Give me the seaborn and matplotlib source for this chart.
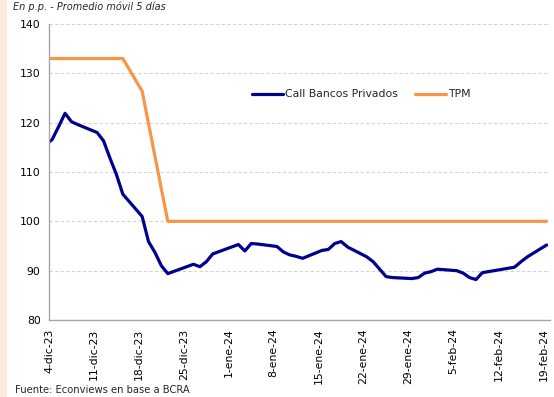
import matplotlib
matplotlib.use("Agg")
import matplotlib.pyplot as plt
from matplotlib.patches import Rectangle
import pandas as pd
import seaborn as sns

# Business days in the sample
dates = [
    "2023-12-01",
    "2023-12-04", "2023-12-05", "2023-12-06", "2023-12-07", "2023-12-08",
    "2023-12-11", "2023-12-12", "2023-12-13", "2023-12-14", "2023-12-15",
    "2023-12-18", "2023-12-19", "2023-12-20", "2023-12-21", "2023-12-22",
    "2023-12-26", "2023-12-27", "2023-12-28", "2023-12-29",
    "2024-01-02", "2024-01-03", "2024-01-04", "2024-01-05",
    "2024-01-08", "2024-01-09", "2024-01-10", "2024-01-11", "2024-01-12",
    "2024-01-15", "2024-01-16", "2024-01-17", "2024-01-18", "2024-01-19",
    "2024-01-22", "2024-01-23", "2024-01-24", "2024-01-25", "2024-01-26",
    "2024-01-29", "2024-01-30", "2024-01-31", "2024-02-01", "2024-02-02",
    "2024-02-05", "2024-02-06", "2024-02-07", "2024-02-08", "2024-02-09",
    "2024-02-14", "2024-02-15", "2024-02-16",
    "2024-02-19",
]

# Call rate, private banks (5-day moving average, %)
call_privados = [
    113.3,
    116.6, 119.2, 121.9, 120.2, 119.6,
    118.0, 116.3, 112.8, 109.5, 105.5,
    101.0, 95.9, 93.7, 91.0, 89.4,
    91.3, 90.8, 91.8, 93.4,
    95.3, 94.0, 95.5, 95.4,
    94.9, 93.8, 93.2, 92.9, 92.5,
    94.1, 94.3, 95.5, 95.9, 94.8,
    92.8, 91.8, 90.3, 88.8, 88.6,
    88.4, 88.6, 89.5, 89.8, 90.3,
    90.0, 89.5, 88.6, 88.2, 89.6,
    90.7, 91.8, 92.8,
    95.2,
]

# Policy rate (5-day moving average, %)
tpm = [
    133.0,
    133.0, 133.0, 133.0, 133.0, 133.0,
    133.0, 133.0, 133.0, 133.0, 133.0,
    126.4, 119.8, 113.2, 106.6, 100.0,
    100.0, 100.0, 100.0, 100.0,
    100.0, 100.0, 100.0, 100.0,
    100.0, 100.0, 100.0, 100.0, 100.0,
    100.0, 100.0, 100.0, 100.0, 100.0,
    100.0, 100.0, 100.0, 100.0, 100.0,
    100.0, 100.0, 100.0, 100.0, 100.0,
    100.0, 100.0, 100.0, 100.0, 100.0,
    100.0, 100.0, 100.0,
    100.0,
]

series_names = ["Call Bancos Privados", "TPM"]
series_colors = ["#00008C", "#F79646"]

tick_dates = [
    "2023-12-04", "2023-12-11", "2023-12-18", "2023-12-25", "2024-01-01",
    "2024-01-08", "2024-01-15", "2024-01-22", "2024-01-29", "2024-02-05",
    "2024-02-12", "2024-02-19",
]
tick_labels = [
    "4-dic-23", "11-dic-23", "18-dic-23", "25-dic-23", "1-ene-24",
    "8-ene-24", "15-ene-24", "22-ene-24", "29-ene-24", "5-feb-24",
    "12-feb-24", "19-feb-24",
]
y_ticks = [80, 90, 100, 110, 120, 130, 140]

sns.set_style("white")
plt.rcParams["font.family"] = ["DejaVu Sans"]

# Each day's value sits in the middle of its date slot
x = pd.to_datetime(dates) + pd.Timedelta(hours=12)
df = pd.DataFrame({
    "fecha": list(x) * 2,
    "valor": call_privados + tpm,
    "serie": [series_names[0]] * len(dates) + [series_names[1]] * len(dates),
})

fig = plt.figure(figsize=(5.54, 3.97), dpi=100)
fig.patches.append(Rectangle((0, 0), 7 / 554, 1, transform=fig.transFigure,
                             facecolor="#FDEADA", edgecolor="none", zorder=0))
ax = fig.add_axes([49 / 554, 1 - 320 / 397, 500.8 / 554, 296 / 397])

sns.lineplot(data=df, x="fecha", y="valor", hue="serie", hue_order=series_names,
             palette=series_colors, linewidth=2.3, ax=ax, legend=True,
             solid_joinstyle="round")

ax.set_xlim(pd.Timestamp("2023-12-04"), pd.Timestamp("2024-02-20"))
ax.set_ylim(80, 140)
ax.set_yticks(y_ticks)
ax.set_xticks(pd.to_datetime(tick_dates))
ax.set_xticklabels(tick_labels, rotation=90, fontsize=7.8)
ax.set_yticklabels([str(v) for v in y_ticks], fontsize=7.8)
ax.set_xlabel("")
ax.set_ylabel("")

for v in y_ticks[1:]:
    ax.axhline(v, color="#D4D4D4", linewidth=0.8, linestyle=(0, (3, 2)), zorder=0)

for side in ["top", "right"]:
    ax.spines[side].set_visible(False)
for side in ["left", "bottom"]:
    ax.spines[side].set_color("#A6A6A6")
    ax.spines[side].set_linewidth(1.0)
ax.tick_params(axis="both", direction="out", length=4, width=0.8,
               color="#A6A6A6", labelcolor="#000000", pad=2)

leg = ax.legend(loc="center", bbox_to_anchor=(0.624, 0.7625), ncol=2, frameon=False,
                fontsize=7.8, handlelength=2.85, handletextpad=0.2,
                columnspacing=1.6, borderaxespad=0)
for line in leg.get_lines():
    line.set_linewidth(2.3)

fig.text(13 / 554, 1 - 1 / 397, "En p.p. - Promedio móvil 5 días", fontsize=7,
         style="italic", va="top", ha="left")
fig.text(15 / 554, 1 - 390 / 397, "Fuente: Econviews en base a BCRA", fontsize=7.2,
         va="center", ha="left")

fig.savefig("out.png", dpi=100)
